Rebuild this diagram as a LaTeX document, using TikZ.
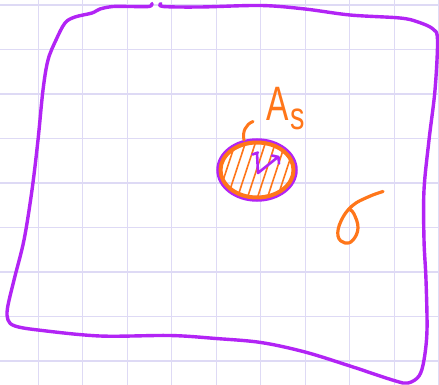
\documentclass[tikz,border=0pt]{standalone}
\usepackage{fontspec}
\setmainfont{Liberation Sans}
\definecolor{gridc}{RGB}{222,218,245}
\definecolor{pur}{RGB}{178,36,245}
\definecolor{org}{RGB}{255,118,26}
\begin{document}
\begin{tikzpicture}[x=1pt,y=-1pt,
  gridline/.style={gridc,line width=1.3pt},
  purstroke/.style={pur,line width=3.4pt,line cap=round,line join=round},
  orgstroke/.style={org,line width=3.4pt,line cap=round,line join=round},
  hatch/.style={org,line width=1.6pt,line cap=round}]
\useasboundingbox (0,0) rectangle (439,385);
\fill[white] (0,0) rectangle (439,385);
% grid
\foreach \i in {0,...,9} {
  \draw[gridline] ({38.3+44.5*\i},0) -- ({38.3+44.5*\i},385);
}
\foreach \j in {0,...,8} {
  \draw[gridline] (0,{5+44.5*\j}) -- (439,{5+44.5*\j});
}
% outer boundary
\draw[purstroke] plot[smooth,tension=0.55] coordinates {
 (152,3.5) (149,6.5) (130,6.5) (113,6.5) (100,9) (92,13) (75,17) (65,23) (56,40) (48,60)
 (43,90) (38,140) (32,190) (24,240) (14,280) (7.5,308) (8,320) (15,326) (38,330)
 (100,336) (170,335.5) (216,338.5) (261,342.5) (305,352) (350,366) (394,380.5)
 (408,383) (419,376) (424,360) (427,330) (426,280) (424,240) (424,190) (429,140)
 (435,90) (437.5,40) (433,29) (418,22) (400,18) (350,15) (305,9) (261,5.5) (200,7) (163,6.5) (161,3.5)};
% inner hole
\draw[pur,line width=4.5pt] (257,170) ellipse [x radius=38.5, y radius=29.5];
\begin{scope}
  \clip (257,170) ellipse [x radius=35, y radius=26];
  \foreach \x in {205,215,...,285} {
    \draw[hatch] (\x,205) -- (\x+23,135);
  }
\end{scope}
\draw[orgstroke,line width=4pt] (257,170) ellipse [x radius=36.5, y radius=27.5];
% radius
\draw[pur,line width=2.6pt,line cap=round,line join=round]
  (252.5,154.5) -- (258,152.5) (257,153) -- (258,173) -- (278,157)
  (272,155.5) -- (278.5,157) -- (279,163.5);
% bracket
\draw[orgstroke,line width=3pt] (253,121.5) .. controls (246,124) and (242,132) .. (244,140);
% labels
\node[org,inner sep=0pt,anchor=base west] (as) at (266,120.5)
  {\fontsize{42}{42}\selectfont\scalebox{0.8}[1.15]{A}\hspace{2pt}\raisebox{-9pt}{\fontsize{32}{32}\selectfont\scalebox{0.9}[1.2]{s}}};
% sigma
\draw[orgstroke,line width=3.2pt] plot[smooth,tension=0.7] coordinates {
 (383,191.5) (368,197) (352,206) (341,221) (338,236) (345,243) (353,240) (358,228) (354,214) (349,209)};
\end{tikzpicture}
\end{document}
